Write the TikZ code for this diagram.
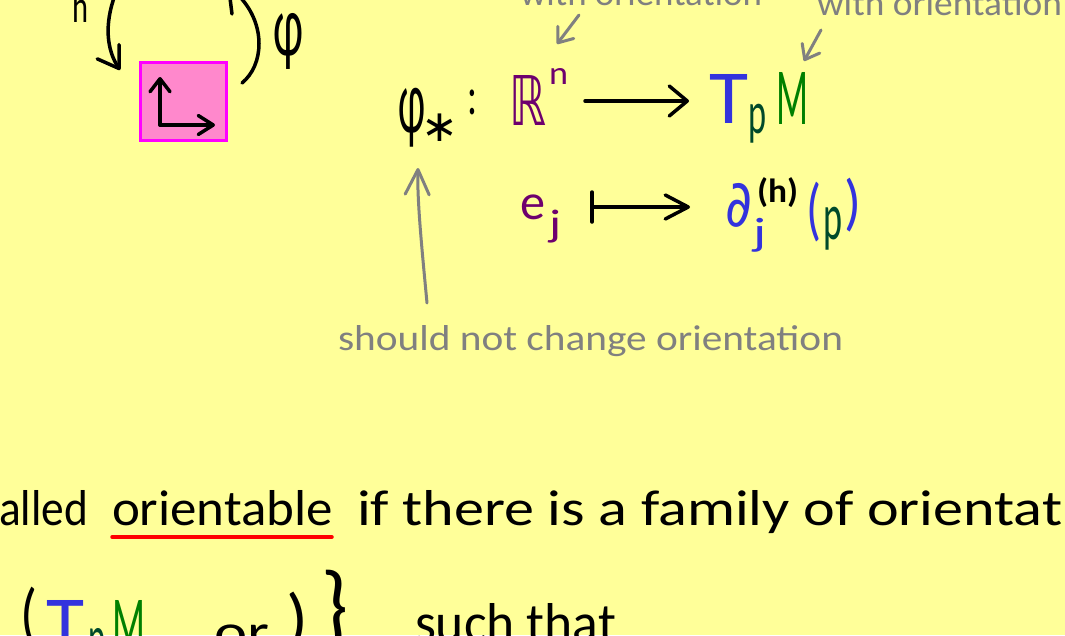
\documentclass[tikz,border=0pt]{standalone}
\usepackage{fontspec}
\usepackage{graphicx}
\setmainfont{Carlito}
\newfontfamily\symf{DejaVu Sans}
\usetikzlibrary{arrows.meta}
\definecolor{bg}{HTML}{FFFF99}
\definecolor{pur}{HTML}{6E006E}
\definecolor{blu}{HTML}{3333DD}
\definecolor{dgr}{HTML}{004A2A}
\definecolor{grn}{HTML}{008000}
\definecolor{gry}{HTML}{808080}
\definecolor{pinkf}{HTML}{FF88CC}
\definecolor{mag}{HTML}{FF00FF}
\definecolor{redl}{HTML}{FF0000}
\newcommand\gbox[3]{\resizebox*{#1}{#2}{#3}}
\newcommand\tbox[3]{\resizebox{#1}{#2}{#3}}
\begin{document}
\begin{tikzpicture}[x=1pt,y=-1pt,
  gl/.style={inner sep=0pt, outer sep=0pt, anchor=north west},
  tx/.style={inner sep=0pt, outer sep=0pt, anchor=base west},
  ink/.style={line width=3.5pt, line cap=round, line join=round},
  gink/.style={draw=gry, line width=3pt, line cap=round, line join=round},
  barb/.style 2 args={-{Straight Barb[length=#1, width=#2, round]}}]
\fill[bg] (0,0) rectangle (1065,635);
\useasboundingbox (0,0) rectangle (1065,635);
\clip (0,0) rectangle (1065,635);

% upper left: chart box
\node[gl] (hlab) at (72,-10) {\gbox{16pt}{32pt}{h}};
\coordinate (c1s) at (115,-5);
\coordinate (c1e) at (120,70);
\draw[ink, barb={20pt}{26pt}] (c1s) .. controls (104,25) and (107,50) .. (c1e);
\coordinate (c2s) at (240,-3);
\coordinate (c2e) at (242,83);
\draw[ink] (c2s) .. controls (266,25) and (264,65) .. (c2e);
\coordinate (c3s) at (230,-2);
\coordinate (c3e) at (232,14);
\draw[ink] (c3s) -- (c3e);
\node[gl] (phi1) at (273,13) {\gbox{30pt}{56pt}{φ}};
\node[draw=mag, fill=pinkf, line width=3pt, minimum width=86pt, minimum height=78pt, inner sep=0pt] (box) at (183,101) {};
\coordinate (ax0) at (160,125);
\coordinate (axu) at (160,77);
\coordinate (axr) at (215,125);
\draw[ink, barb={13pt}{20pt}] (ax0) -- (axu);
\draw[ink, barb={15pt}{19pt}] (ax0) -- (axr);

% phi_* : R^n -> T_p M
\node[gl] (phis) at (398,88) {\gbox{27pt}{59pt}{φ}};
\node[inner sep=0pt, anchor=north] (star) at (440,114) {\fontsize{44}{44}\selectfont\symf ∗};
\node[gl] (colon) at (467,90) {\gbox{10pt}{25pt}{:}};
\node[gl, text=pur] (R) at (509,75) {\gbox{37pt}{50pt}{\symf ℝ}};
\node[gl, text=pur] (n) at (549,68) {\gbox{19pt}{16pt}{n}};
\coordinate (a1s) at (585,101);
\coordinate (a1e) at (689,101);
\draw[ink, barb={18pt}{30pt}] (a1s) -- (a1e);
\node[gl, text=blu] (T) at (709,74) {\gbox{39pt}{49pt}{T}};
\node[gl, text=dgr] (p1) at (748,104) {\gbox{18pt}{39pt}{p}};
\node[gl, text=grn] (M) at (776,72) {\gbox{32pt}{52pt}{M}};

% grey annotations
\node[tx, text=gry] (wo1) at (520,5) {\tbox{242pt}{25pt}{with orientation}};
\node[tx, text=gry] (wo2) at (817,15) {\tbox{245pt}{25pt}{with orientation}};
\coordinate (g1s) at (579,15);
\coordinate (g1e) at (557,44);
\draw[gink, barb={13pt}{20pt}] (g1s) -- (g1e);
\coordinate (g2s) at (821,30);
\coordinate (g2e) at (804,61);
\draw[gink, barb={13pt}{20pt}] (g2s) -- (g2e);

% e_j |-> d_j^(h)(p)
\node[gl, text=pur] (e) at (520,195) {\gbox{25pt}{25pt}{e}};
\node[gl, text=pur] (j1) at (549,210) {\gbox{12pt}{33pt}{j}};
\coordinate (m0) at (592,192);
\coordinate (m1) at (592,222);
\draw[ink] (m0) -- (m1);
\coordinate (ms) at (592,207);
\coordinate (me) at (690,207);
\draw[ink, barb={23pt}{24pt}] (ms) -- (me);
\node[gl, text=blu] (d) at (725,183) {\gbox{27pt}{44pt}{\symf ∂}};
\node[gl, text=blu] (j2) at (753,218) {\gbox{13pt}{34pt}{j}};
\node[gl] (hh) at (757,178) {\gbox{41pt}{30pt}{\bfseries (h)}};
\node[gl, text=blu] (lp) at (806,182) {\gbox{15pt}{60pt}{(}};
\node[gl, text=dgr] (p2) at (823,207) {\gbox{19pt}{43pt}{p}};
\node[gl, text=blu] (rp) at (844,178) {\gbox{17pt}{54pt}{)}};

\coordinate (u0) at (427,303);
\coordinate (u1) at (418,168);
\draw[gink, barb={25pt}{24pt}] (u0) .. controls (422,250) and (417,200) .. (u1);
\node[tx, text=gry] (snc) at (338,350) {\tbox{505pt}{25pt}{should not change orientation}};

% text line
\node[tx] (alled) at (-1,525) {\tbox{89pt}{35pt}{alled}};
\node[tx] (orient) at (112,525) {\tbox{221pt}{35pt}{orientable}};
\node[tx] (ifthere) at (357,525) {\tbox{705pt}{35pt}{if there is a family of orientat}};
\coordinate (ul) at (112,537);
\coordinate (ur) at (332,537);
\draw[redl, line width=3.5pt, line cap=round] (ul) -- (ur);

% bottom line
\node[gl] (lb) at (20,587) {\gbox{17pt}{60pt}{(}};
\node[gl, text=blu] (T2) at (46,600) {\gbox{38pt}{50pt}{T}};
\node[gl, text=dgr] (p3) at (88,628) {\gbox{17pt}{40pt}{p}};
\node[gl, text=grn] (M2) at (112,600) {\gbox{33pt}{50pt}{M}};
\node[gl] (or) at (214,625) {\gbox{55pt}{25pt}{or}};
\node[gl] (rb) at (286,592) {\gbox{22pt}{60pt}{)}};
\node[gl] (brace) at (321,570) {\gbox{27pt}{80pt}{\}}};
\node[tx] (such) at (415,641) {\tbox{201pt}{38pt}{such that}};
\end{tikzpicture}
\end{document}
